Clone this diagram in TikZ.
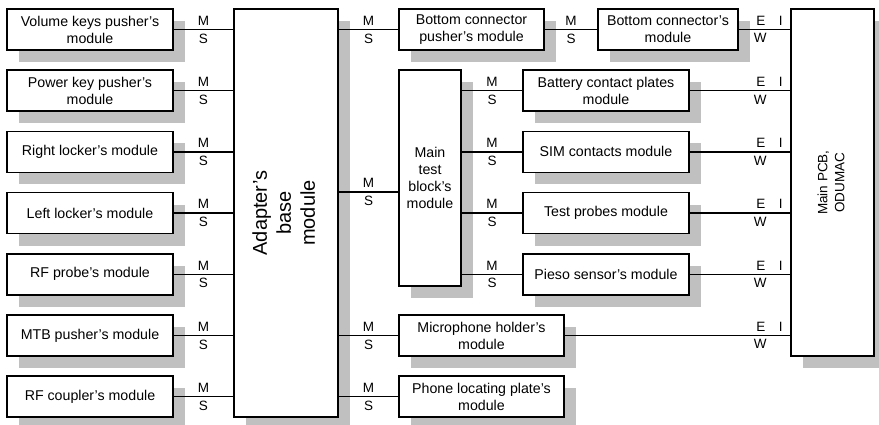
\documentclass[tikz,border=0pt]{standalone}
\usepackage{fontspec}
\setmainfont{Liberation Sans}
\usetikzlibrary{shadows}

\begin{document}
\begin{tikzpicture}[x=1pt, y=-1pt,
    hop/.style={draw, line width=1.6pt, fill=white, align=center, inner sep=0pt,
        font=\fontsize{14.2}{17}\selectfont,
        drop shadow={shadow xshift=12pt, shadow yshift=-12pt, fill=bongxam, opacity=1}},
    hoptrai/.style={hop, minimum width=166pt, minimum height=41pt},
    day/.style={line width=1.3pt},
    nhan/.style={font=\fontsize{13.5}{16}\selectfont, inner sep=3.5pt},
    tren/.style={midway, above, nhan},
    duoi/.style={midway, below, nhan}]
    % Định nghĩa màu bóng xám
    \definecolor{bongxam}{RGB}{192, 192, 192}
    \useasboundingbox (0,0) rectangle (879,424);

    % 1. Cột các module bên trái
    \node[hoptrai] (volume) at (90,29.5)  {Volume keys pusher's\\module};
    \node[hoptrai] (power)  at (90,90.7)  {Power key pusher's\\module};
    \node[hoptrai] (right)  at (90,151.9) {Right locker's module};
    \node[hoptrai] (left)   at (90,213.1) {Left locker's module};
    \node[hoptrai] (rfprobe) at (90,274.3) {RF probe's module};
    \node[hoptrai] (mtb)    at (90,335.5) {MTB pusher's module};
    \node[hoptrai] (rfcoupler) at (90,396.7) {RF coupler's module};

    % 2. Module đế adapter
    \node[hop, minimum width=104pt, minimum height=408pt] (adapter) at (286,213)
        {\rotatebox{90}{\fontsize{20}{24}\selectfont
         \begin{tabular}{@{}c@{}}Adapter's\\base\\module\end{tabular}}};

    % 3. Các module ở giữa
    \node[hop, minimum width=145pt, minimum height=41pt] (bcpusher) at (471.5,29.5) {Bottom connector\\pusher's module};
    \node[hop, minimum width=140pt, minimum height=41pt] (bconn) at (668,29.5) {Bottom connector's\\module};
    \node[hop, minimum width=62pt, minimum height=216pt] (testblock) at (430,178) {Main\\test\\block's\\module};
    \node[hoptrai] (battery) at (606,90.7)  {Battery contact plates\\module};
    \node[hoptrai] (sim)     at (606,151.9) {SIM contacts module};
    \node[hoptrai] (probes)  at (606,213.1) {Test probes module};
    \node[hoptrai] (pieso)   at (606,274.3) {Pieso sensor's module};
    \node[hop, minimum width=165pt, minimum height=41pt] (micro) at (481.5,335.5) {Microphone holder's\\module};
    \node[hop, minimum width=165pt, minimum height=41pt] (phone) at (481.5,396.7) {Phone locating plate's\\module};

    % 4. Main PCB
    \node[hop, minimum width=83pt, minimum height=347pt] (pcb) at (832.5,182.5)
        {\rotatebox{90}{\fontsize{13.5}{17}\selectfont
         \begin{tabular}{@{}c@{}}Main PCB,\\ODUMAC\end{tabular}}};

    % 5. Đường nối M/S
    \foreach \n in {volume,power,right,left,rfprobe,mtb,rfcoupler}
        \draw[day] (\n.east) -- (\n.east -| adapter.west) node[tren] {M} node[duoi] {S};
    \foreach \n in {bcpusher,micro,phone}
        \draw[day] (\n.west -| adapter.east) -- (\n.west) node[tren] {M} node[duoi] {S};
    \coordinate (vaotest) at ([yshift=-14pt]testblock.west);
    \draw[day] (vaotest -| adapter.east) -- (vaotest) node[tren] {M} node[duoi] {S};
    \draw[day] (bcpusher.east) -- (bconn.west) node[tren] {M} node[duoi] {S};
    \foreach \n in {battery,sim,probes,pieso}
        \draw[day] (\n.west -| testblock.east) -- (\n.west) node[tren] {M} node[duoi] {S};

    % 6. Đường nối E I / W vào PCB
    \foreach \n in {bconn,battery,sim,probes,pieso,micro}
        \draw[day] (\n.east) -- (\n.east -| pcb.west)
            node[pos=1, nhan, anchor=south east, xshift=-3.5pt] {E\quad I}
            node[pos=1, nhan, anchor=north east, xshift=-19.5pt] {W};
\end{tikzpicture}
\end{document}
